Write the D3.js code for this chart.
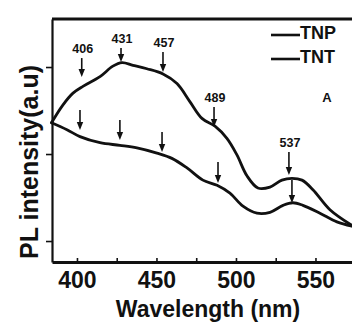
<!DOCTYPE html>
<html>
<head>
<meta charset="utf-8">
<script src="https://cdn.jsdelivr.net/npm/d3@7"></script>
<style>
  html, body { margin: 0; padding: 0; background: #ffffff; }
  svg { display: block; }
  text { font-family: "Liberation Sans", Arial, sans-serif; font-weight: bold; fill: #111; }
</style>
</head>
<body>
<svg id="chart" width="352" height="322"></svg>
<script>
// ---- data ----
const tnpWavelength = [384, 391, 397.5, 404, 414.5, 422.6, 428.3, 435.2, 444, 454.1, 462.9, 471.1, 478.6, 486.8, 494.3, 500.6, 506.9, 513.8, 521.4, 528.9, 535.2, 541.5, 548.4, 559.1, 572.9];
const tnpIntensity  = [2.36, 2.56, 2.70, 2.78, 2.89, 3.01, 3.05, 3.02, 2.98, 2.92, 2.81, 2.60, 2.41, 2.32, 2.18, 1.99, 1.75, 1.61, 1.62, 1.70, 1.72, 1.70, 1.59, 1.36, 1.18];

const tntWavelength = [384, 393.7, 401.9, 414.5, 427.0, 437.7, 450.3, 459.7, 469.2, 479.2, 488.1, 496.2, 504.4, 513.2, 521.4, 529.6, 535.8, 542.1, 552.8, 563.5, 572.9];
const tntIntensity  = [2.36, 2.28, 2.20, 2.13, 2.10, 2.07, 2.01, 1.95, 1.84, 1.70, 1.64, 1.55, 1.40, 1.32, 1.33, 1.41, 1.44, 1.41, 1.32, 1.22, 1.17];

const peakLabels      = ["406", "431", "457", "489", "537"];
const tnpArrowWl      = [403, 427.7, 454.1, 486.2, 533.3];
const tnpArrowTip     = [2.885, 3.057, 2.943, 2.310, 1.759];
const tnpArrowTail    = [3.103, 3.218, 3.172, 2.540, 2.023];
const tntArrowWl      = [401.9, 427.0, 453.5, 488.7, 535.2];
const tntArrowTip     = [2.276, 2.161, 2.023, 1.667, 1.437];
const tntArrowTail    = [2.506, 2.391, 2.253, 1.908, 1.701];

const xTickValues = [400, 425, 450, 475, 500, 525, 550, 575];
const xTickLabels = [400, 450, 500, 550];
const yTickValues = [1, 2, 3];
const seriesNames = ["TNP", "TNT"];

// ---- drawing ----
const svg = d3.select("#chart");
const mLeft = 52, mRight = 360, mTop = 19, mBottom = 262;

const x = d3.scaleLinear().domain([384.3, 578]).range([mLeft, mRight]);
const y = d3.scaleLinear().domain([0.759, 3.552]).range([mBottom, mTop]);

const ink = "#111";

// bottom axis
const xAxis = d3.axisBottom(x)
  .tickValues(xTickValues)
  .tickSizeInner(-4)
  .tickSizeOuter(0)
  .tickPadding(10)
  .tickFormat(d => xTickLabels.includes(d) ? d : "");
const gx = svg.append("g").attr("transform", `translate(0,${mBottom})`).call(xAxis);
gx.select(".domain").attr("stroke", ink).attr("stroke-width", 2.8);
gx.selectAll(".tick line").attr("stroke", ink).attr("stroke-width", 1.6);
gx.selectAll(".tick text").attr("font-size", 23).attr("font-family", '"Liberation Sans", Arial, sans-serif').attr("font-weight", "bold").attr("fill", ink);

// left axis
const yAxis = d3.axisLeft(y).tickValues(yTickValues).tickSizeInner(6).tickSizeOuter(0).tickFormat("");
const gy = svg.append("g").attr("transform", `translate(${mLeft},0)`).call(yAxis);
gy.select(".domain").attr("stroke", ink).attr("stroke-width", 2.2);
gy.selectAll(".tick line").attr("stroke", ink).attr("stroke-width", 1.6);

// top frame line
svg.append("line")
  .attr("x1", mLeft).attr("x2", mRight)
  .attr("y1", y.range()[1]).attr("y2", y.range()[1])
  .attr("stroke", ink).attr("stroke-width", 2.8);

// curves
const line = d3.line().curve(d3.curveCatmullRom.alpha(0.5));
const tnpPts = tnpWavelength.map((w, i) => [x(w), y(tnpIntensity[i])]);
const tntPts = tntWavelength.map((w, i) => [x(w), y(tntIntensity[i])]);
[tnpPts, tntPts].forEach(pts => {
  svg.append("path").attr("d", line(pts))
    .attr("fill", "none").attr("stroke", ink).attr("stroke-width", 2.8)
    .attr("stroke-linejoin", "round").attr("stroke-linecap", "round");
});

// arrows
function arrow(w, tail, tip) {
  const ax = x(w), y0 = y(tail), y1 = y(tip);
  svg.append("line").attr("x1", ax).attr("x2", ax).attr("y1", y0).attr("y2", y1 - 6)
    .attr("stroke", ink).attr("stroke-width", 1.6);
  svg.append("path")
    .attr("d", `M${ax - 3.2},${y1 - 8} L${ax + 3.2},${y1 - 8} L${ax},${y1} Z`)
    .attr("fill", ink);
}
tnpArrowWl.forEach((w, i) => arrow(w, tnpArrowTail[i], tnpArrowTip[i]));
tntArrowWl.forEach((w, i) => arrow(w, tntArrowTail[i], tntArrowTip[i]));

// peak labels
peakLabels.forEach((lab, i) => {
  svg.append("text")
    .attr("x", x(tnpArrowWl[i]) + 1).attr("y", y(tnpArrowTail[i]) - 5)
    .attr("text-anchor", "middle").attr("font-size", 12.5)
    .text(lab);
});

// legend
seriesNames.forEach((name, i) => {
  const ly = 35 + i * 24;
  svg.append("line").attr("x1", 271).attr("x2", 300).attr("y1", ly).attr("y2", ly)
    .attr("stroke", ink).attr("stroke-width", 2.6);
  svg.append("text").attr("x", 300).attr("y", ly + 3.5).attr("font-size", 18).text(name);
});

// panel letter
svg.append("text").attr("x", 327).attr("y", 102).attr("text-anchor", "middle").attr("font-size", 13).text("A");

// axis titles
svg.append("text").attr("x", 208).attr("y", 317).attr("text-anchor", "middle")
  .attr("font-size", 23).text("Wavelength (nm)");
svg.append("text")
  .attr("transform", "translate(38,162) rotate(-90)")
  .attr("text-anchor", "middle").attr("font-size", 25)
  .text("PL intensity(a.u)");
</script>
</body>
</html>
